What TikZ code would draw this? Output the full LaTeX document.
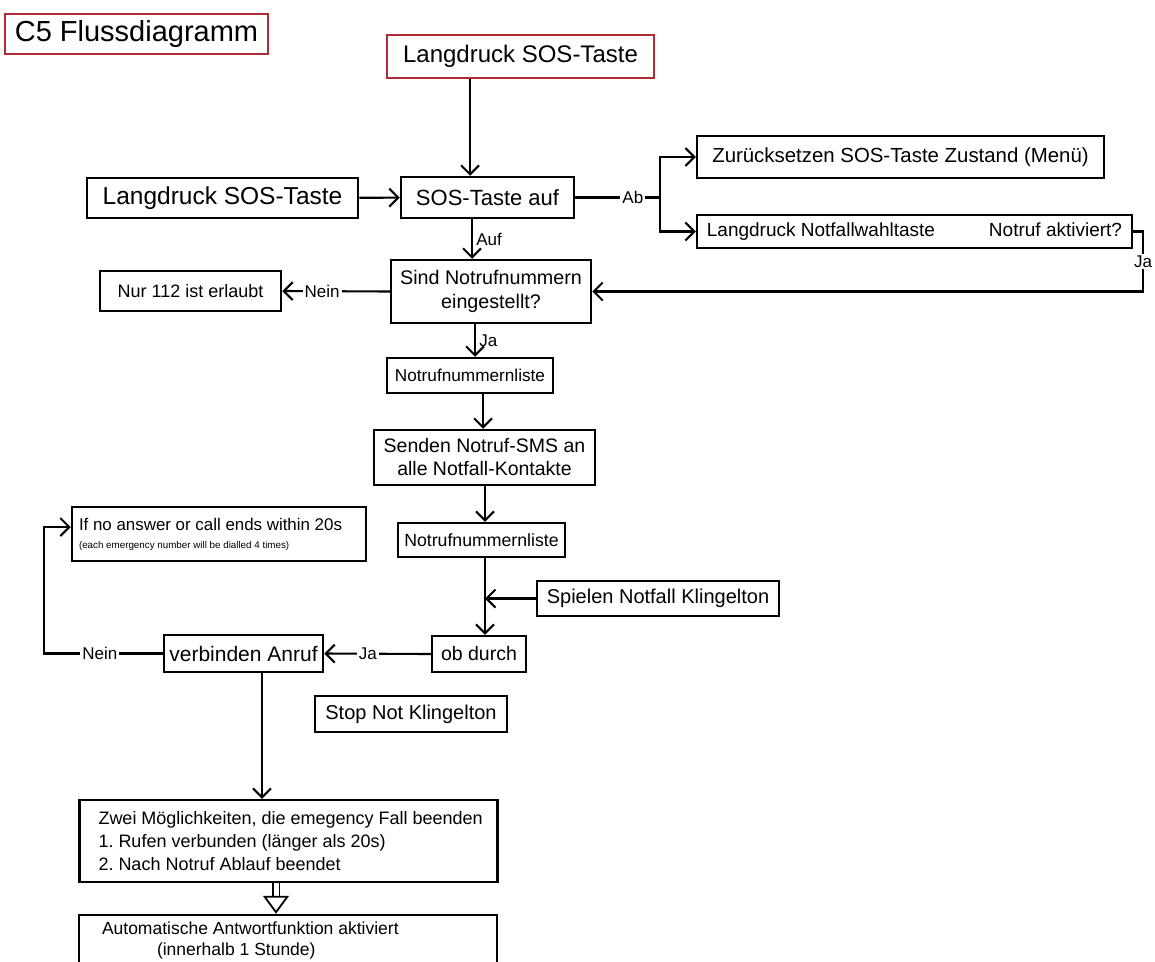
\documentclass[tikz,border=0pt]{standalone}
\usepackage{fontspec}
\setmainfont{Liberation Sans}
\usetikzlibrary{shapes.geometric, arrows.meta, positioning}
\definecolor{boxred}{RGB}{176,44,50}
\frenchspacing
\tikzstyle{startstop} = [rectangle, text centered, draw=boxred, line width=2.5pt]
\tikzstyle{process} = [rectangle, text centered, draw=black, line width=2.5pt]
\tikzstyle{arrow} = [line width=2.1pt, -{Straight Barb[length=9pt, width=18pt]}]
\tikzstyle{line} = [line width=2.1pt]
\tikzstyle{lbl} = [fill=white, inner sep=2pt, font=\fontsize{17}{20}\selectfont]

\begin{document}
\begin{tikzpicture}[x=1pt, y=-1pt]
	\useasboundingbox (0,0) rectangle (1155,961);
	\node (title) [startstop, minimum width=263pt, minimum height=40pt, font=\fontsize{29}{34}\selectfont] at (136.5,34) {C5 Flussdiagramm};
	\node (start) [startstop, minimum width=267pt, minimum height=43pt, font=\fontsize{24}{28}\selectfont] at (520.5,56.5) {Langdruck SOS-Taste};
	\node (press) [process, minimum width=271pt, minimum height=40pt, font=\fontsize{24.5}{28}\selectfont] at (222.5,198) {Langdruck SOS-Taste};
	\node (sosauf) [process, minimum width=173pt, minimum height=41pt, font=\fontsize{22}{26}\selectfont] at (487.5,197.5) {SOS-Taste auf};
	\node (reset) [process, minimum width=407pt, minimum height=42pt, font=\fontsize{20.4}{24}\selectfont] at (900.5,157) {Zurücksetzen SOS-Taste Zustand (Menü)};
	\node (dial) [process, minimum width=435pt, minimum height=33pt, font=\fontsize{19}{22}\selectfont] at (914.5,231.5) {Langdruck Notfallwahltaste\hspace{54pt}Notruf aktiviert?};
	\node (query) [process, minimum width=200pt, minimum height=63pt, align=center, font=\fontsize{19.7}{24}\selectfont] at (491,291.5) {Sind Notrufnummern\\eingestellt?};
	\node (only112) [process, minimum width=181pt, minimum height=40pt, font=\fontsize{18}{22}\selectfont] at (190.5,291) {Nur 112 ist erlaubt};
	\node (list1) [process, minimum width=166pt, minimum height=35pt, font=\fontsize{17.2}{21}\selectfont] at (470,375.5) {Notrufnummernliste};
	\node (sms) [process, minimum width=221pt, minimum height=55pt, align=center, font=\fontsize{19.5}{23}\selectfont] at (484.5,457.5) {Senden Notruf-SMS an\\alle Notfall-Kontakte};
	\node (list2) [process, minimum width=167pt, minimum height=34pt, font=\fontsize{17.7}{21}\selectfont] at (481.5,540) {Notrufnummernliste};
	\node (ring) [process, minimum width=242pt, minimum height=35pt, font=\fontsize{20}{24}\selectfont] at (658,598.5) {Spielen Notfall Klingelton};
	\node (through) [process, minimum width=94pt, minimum height=36pt, font=\fontsize{19.5}{23}\selectfont] at (479,654) {ob durch};
	\node (connect) [process, minimum width=159pt, minimum height=37pt, font=\fontsize{21}{25}\selectfont] at (243.5,653.5) {verbinden Anruf};
	\node (retry) [process, text width=280pt, inner xsep=7pt, minimum height=54pt, align=flush left, font=\fontsize{16.9}{20}\selectfont] at (219,534) {If no answer or call ends within 20s\\[-2pt]\mbox{\fontsize{9.8}{11}\selectfont (each emergency number will be dialled 4 times)}};
	\node (stopring) [process, minimum width=192pt, minimum height=36pt, font=\fontsize{20}{24}\selectfont] at (411,714) {Stop Not Klingelton};
	\node (finish) [process, text width=400pt, inner xsep=9pt, minimum height=82pt, align=flush left, font=\fontsize{18}{23}\selectfont] at (288.5,841) {\hspace*{10pt}Zwei Möglichkeiten, die emegency Fall beenden\\\hspace*{10pt}1. Rufen verbunden (länger als 20s)\\\hspace*{10pt}2. Nach Notruf Ablauf beendet};
	\node (reply) [process, text width=372pt, inner xsep=23pt, minimum height=50pt, align=flush left, font=\fontsize{17.5}{21}\selectfont] at (288,940) {Automatische Antwortfunktion aktiviert\\\hspace*{55pt}(innerhalb 1 Stunde)};
	\coordinate (fork) at (660,197.5);
	\coordinate (jaturn) at (1143,291.5);
	\coordinate (merge) at (485,598.5);
	\coordinate (loop) at (44,653.5);

	\draw [arrow] ([xshift=-50.5pt]start.south) -- ([xshift=-17.5pt]sosauf.north);
	\draw [arrow] (press) -- (sosauf);
	\draw [line] (sosauf.east) -- node[lbl, pos=0.68] {Ab} (fork);
	\draw [arrow] (fork) |- (reset.west);
	\draw [arrow] (fork) |- (dial.west);
	\draw [arrow] (dial.east) -| node[lbl, pos=0.75] {Ja} (jaturn) -- (query.east);
	\draw [arrow] ([xshift=-15.5pt]sosauf.south) -- node[anchor=west, font=\fontsize{17}{20}\selectfont] {Auf} ([xshift=-19pt]query.north);
	\draw [arrow] (query.west) -- node[lbl, pos=0.63] {Nein} (only112.east);
	\draw [arrow] ([xshift=-16pt]query.south) -- node[anchor=west, font=\fontsize{17}{20}\selectfont] {Ja} ([xshift=5pt]list1.north);
	\draw [arrow] ([xshift=13pt]list1.south) -- ([xshift=-1.5pt]sms.north);
	\draw [arrow] ([xshift=0.5pt]sms.south) -- ([xshift=3.5pt]list2.north);
	\draw [arrow] ([xshift=3.5pt]list2.south) -- ([xshift=6pt]through.north);
	\draw [arrow] (ring.west) -- (merge);
	\draw [arrow] (through.west) -- node[lbl, pos=0.59] {Ja} (connect.east);
	\draw [arrow] (connect.west) -- node[lbl, pos=0.53] {Nein} (loop) |- ([yshift=7pt]retry.west);
	\draw [arrow] ([xshift=18.5pt]connect.south) -- ([xshift=-26.5pt]finish.north);
	\draw [line width=1.8pt, double, double distance=5pt, -{Triangle[open, length=18pt, width=26pt]}] ([xshift=-12.5pt]finish.south) -- ([xshift=-12pt]reply.north);
 \end{tikzpicture}
\end{document}
